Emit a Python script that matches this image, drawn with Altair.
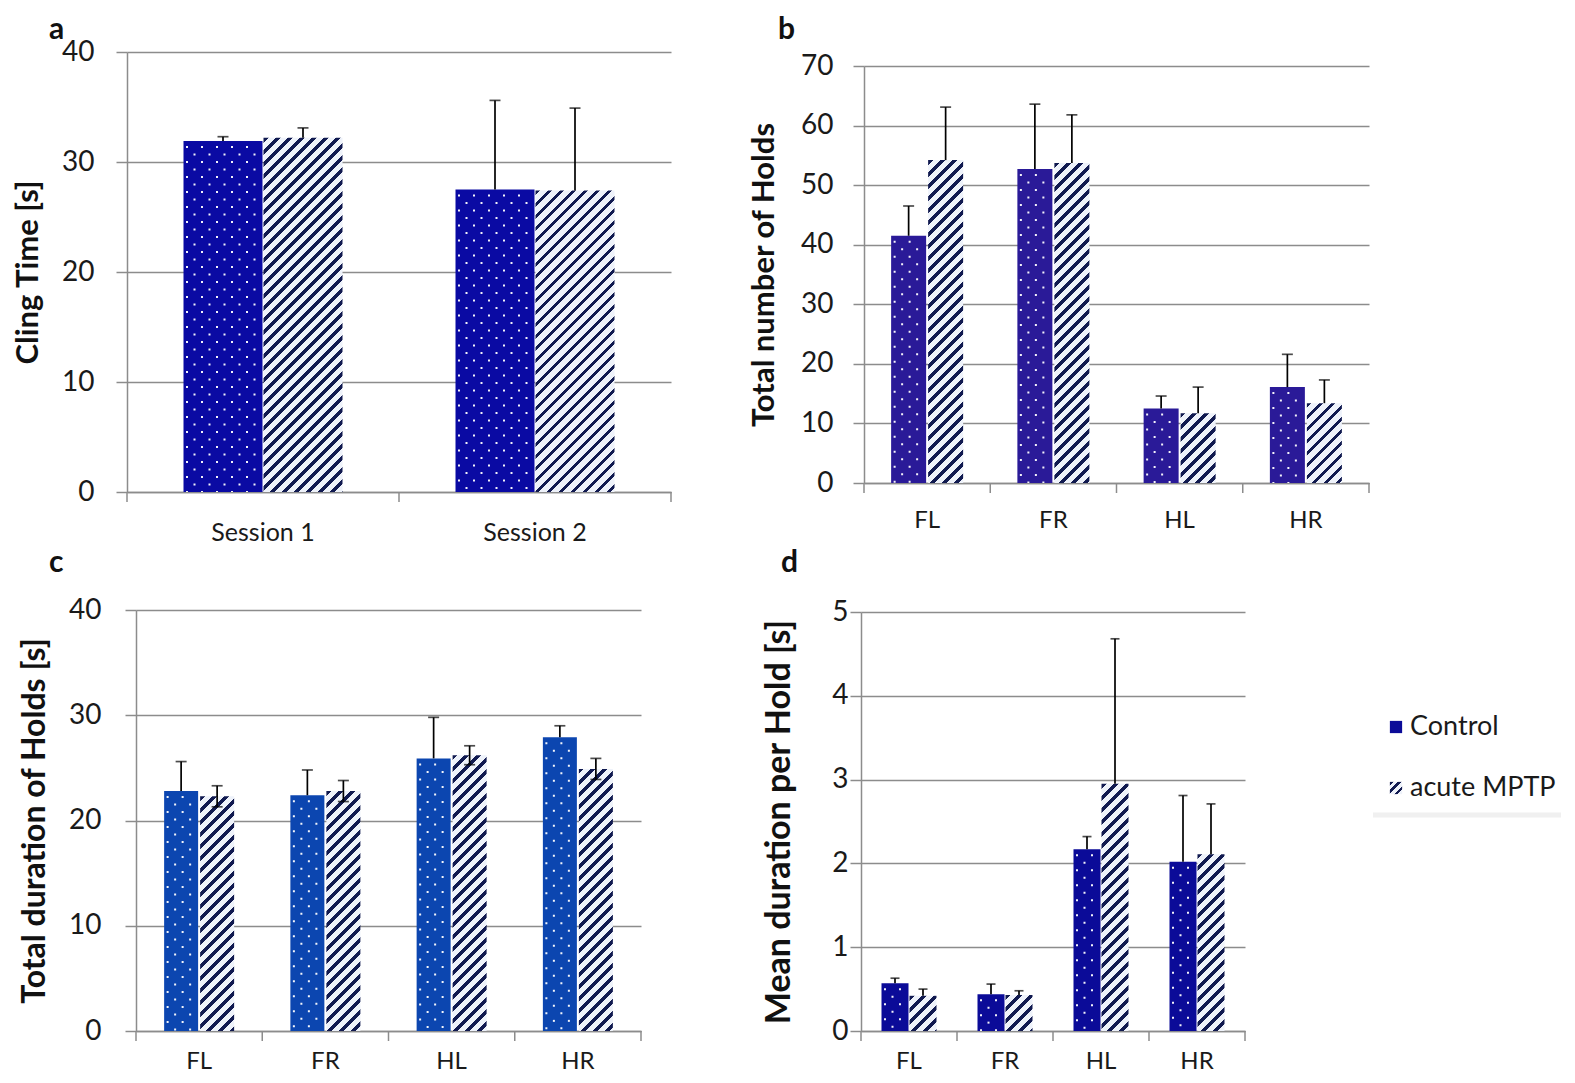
import altair as alt
import pandas as pd

FONT = "Lato"
GRID = "#8c8c8c"
DARK = "#111a50"
LIGHT = "#eef2fa"

series = ["Control", "acute MPTP"]

# ---- panel a: cling time ----
sessions = ["Session 1", "Session 2"]
a_ctrl = [31.9, 27.5]
a_ctrl_sem = [0.4, 8.1]
a_mptp = [32.2, 27.4]
a_mptp_sem = [0.9, 7.5]

# ---- limbs ----
limbs = ["FL", "FR", "HL", "HR"]

# panel b: total number of holds
b_ctrl = [41.5, 52.7, 12.5, 16.1]
b_ctrl_sem = [5.0, 10.9, 2.1, 5.5]
b_mptp = [54.2, 53.7, 11.7, 13.4]
b_mptp_sem = [8.9, 8.1, 4.4, 3.9]

# panel c: total duration of holds
c_ctrl = [22.8, 22.4, 25.9, 27.9]
c_ctrl_sem = [2.8, 2.4, 3.9, 1.1]
c_mptp = [22.3, 22.8, 26.2, 24.9]
c_mptp_sem = [1.0, 1.0, 0.9, 1.0]

# panel d: mean duration per hold
d_ctrl = [0.57, 0.44, 2.17, 2.02]
d_ctrl_sem = [0.06, 0.12, 0.15, 0.79]
d_mptp = [0.42, 0.43, 2.95, 2.11]
d_mptp_sem = [0.08, 0.05, 1.73, 0.60]


def stripe_gradient(h, w, period=12.0, frac=0.4):
    h = max(float(h), 1.0)
    w = max(float(w), 1.0)
    s = (1 / h + 1 / w) / (1 / h ** 2 + 1 / w ** 2)
    x2 = s / h
    y2 = s / w
    n = (w + h) / period
    stops = []
    k = 0
    while k < n:
        a = k / n
        b = min((k + frac) / n, 1.0)
        c = min((k + 1) / n, 1.0)
        stops += [(a, DARK), (b, DARK), (b, LIGHT), (c, LIGHT)]
        k += 1
    return alt.LinearGradient(
        gradient="linear", x1=0, y1=0, x2=round(x2, 5), y2=round(y2, 5),
        stops=[alt.GradientStop(color=col, offset=round(o, 5)) for o, col in stops],
    )


def panel(label, cats, ctrl, ctrl_sem, mptp, mptp_sem, ymax, ystep, ytitle,
          W, H, bw, gap, ctrl_color, two_sided, cap,
          title_dx, title_offset, label_pad, title_pad, x_label_pad, x_label_size=24,
          ytitle_size=31, pad_top=0, pad_left=0, legend=False):
    df = pd.DataFrame({
        "cat": cats,
        "ctrl": ctrl,
        "mptp": mptp,
        "zero": [0] * len(cats),
        "ctrl_hi": [v + e for v, e in zip(ctrl, ctrl_sem)],
        "mptp_hi": [v + e for v, e in zip(mptp, mptp_sem)],
        "mptp_lo": [(v - e) if two_sided else v for v, e in zip(mptp, mptp_sem)],
    })
    band = W / len(cats)
    off = (bw + gap) / 2.0
    TW = W + pad_left
    TH = H + pad_top
    xs = alt.Scale(domain=cats, paddingInner=0, paddingOuter=0, range=[pad_left, TW])
    ys = alt.Scale(domain=[0, ymax], nice=False, range=[TH, pad_top])

    axis_y = alt.Axis(values=list(range(0, ymax + 1, ystep)), format="d", grid=True,
                      tickSize=11, labelPadding=label_pad, title=ytitle,
                      titlePadding=title_pad, labelFontSize=28, titleFontSize=ytitle_size,
                      titleFontWeight="bold", offset=-pad_left)
    axis_x = alt.Axis(ticks=False, domain=True, grid=False, labelAngle=0,
                      labelPadding=x_label_pad, labelFontSize=x_label_size, title=None)

    def X():
        return alt.X("cat:N", sort=cats, scale=xs, axis=axis_x, title=None)

    def Y(f):
        return alt.Y(f"{f}:Q", scale=ys, axis=axis_y, title=ytitle)

    def Y2(f):
        return alt.Y2(f)

    base = alt.Chart(df)
    layers = []
    # control bars
    layers.append(base.mark_bar(width=bw, xOffset=-off, color=ctrl_color).encode(
        x=X(), y=Y("ctrl")))
    # dotted texture (columns of dashes)
    k = 0
    while 3.5 + 7.5 * k < bw - 2:
        xo = -off - bw / 2.0 + 3.5 + 7.5 * k
        layers.append(base.mark_rule(
            xOffset=xo, color="white", strokeWidth=2.0, strokeDash=[2.0, 13.0],
            strokeDashOffset=(10 if k % 2 == 0 else 2.5), opacity=0.95,
        ).encode(x=X(), y=Y("ctrl"), y2=Y2("zero")))
        k += 1
    # hatched bars, one per category
    for cat, v in zip(cats, mptp):
        hpx = v / ymax * H
        layers.append(base.transform_filter(alt.datum.cat == cat).mark_bar(
            width=bw, xOffset=off, color=stripe_gradient(hpx, bw)).encode(
            x=X(), y=Y("mptp")))
    # category boundary ticks on the x axis
    layers.append(base.mark_rule(xOffset=-band / 2.0, color=GRID, strokeWidth=1.5).encode(
        x=X(), y=Y("zero"), y2=alt.value(TH + 10)))
    layers.append(base.transform_filter(alt.datum.cat == cats[-1]).mark_rule(
        xOffset=band / 2.0, color=GRID, strokeWidth=1.5).encode(
        x=X(), y=Y("zero"), y2=alt.value(TH + 10)))
    # error bars
    layers.append(base.mark_rule(xOffset=-off, color="black", strokeWidth=1.7).encode(
        x=X(), y=Y("ctrl"), y2=Y2("ctrl_hi")))
    layers.append(base.mark_tick(xOffset=-off, color="black", thickness=1.7, size=cap,
                                 orient="horizontal").encode(x=X(), y=Y("ctrl_hi")))
    layers.append(base.mark_rule(xOffset=off, color="black", strokeWidth=1.7).encode(
        x=X(), y=Y("mptp_lo"), y2=Y2("mptp_hi")))
    layers.append(base.mark_tick(xOffset=off, color="black", thickness=1.7, size=cap,
                                 orient="horizontal").encode(x=X(), y=Y("mptp_hi")))
    if two_sided:
        layers.append(base.mark_tick(xOffset=off, color="black", thickness=1.7, size=cap,
                                     orient="horizontal").encode(x=X(), y=Y("mptp_lo")))

    if legend:
        ldf = pd.DataFrame({"name": series})
        lb = alt.Chart(ldf)
        ys_leg = [117, 178]
        # faint shadow under the legend box
        layers.append(lb.transform_filter(alt.datum.name == series[0]).mark_rule(
            color="#f0f0f0", strokeWidth=5).encode(
            x=alt.value(512), x2=alt.value(700), y=alt.value(205)))
        layers.append(lb.transform_filter(alt.datum.name == series[0]).mark_square(
            size=150, color=ctrl_color, opacity=1).encode(
            x=alt.value(535), y=alt.value(ys_leg[0])))
        layers.append(lb.transform_filter(alt.datum.name == series[1]).mark_square(
            size=150, color=stripe_gradient(12, 12, period=8.0, frac=0.45), opacity=1).encode(
            x=alt.value(535), y=alt.value(ys_leg[1])))
        for nm, yy in zip(series, ys_leg):
            layers.append(lb.transform_filter(alt.datum.name == nm).mark_text(
                align="left", baseline="middle", font=FONT, fontSize=27,
                color="#1a1a1a").encode(
                x=alt.value(549), y=alt.value(yy), text="name:N"))

    return alt.layer(*layers).properties(
        width=TW, height=TH,
        title=alt.TitleParams(label, anchor="start", frame="group", dx=title_dx + pad_left,
                              offset=title_offset, fontSize=30, fontWeight="bold",
                              font=FONT, color="#111111"),
    )


pa = panel("a", sessions, a_ctrl, a_ctrl_sem, a_mptp, a_mptp_sem, 40, 10, "Cling Time [s]",
           544, 440, 79, 1, "#0a0aa3", False, 11, -78, -7, 22, 17, 28, x_label_size=25)
pb = panel("b", limbs, b_ctrl, b_ctrl_sem, b_mptp, b_mptp_sem, 70, 10, "Total number of Holds",
           505, 417, 35, 2, "#2a1a98", False, 11, -86, 7, 20, 20, 25, pad_top=14)
pc = panel("c", limbs, c_ctrl, c_ctrl_sem, c_mptp, c_mptp_sem, 40, 10,
           "Total duration of Holds [s]",
           505, 421, 34, 2, "#0c46b0", True, 11, -87, 18, 24, 17, 18, ytitle_size=32,
           pad_left=9)
pd_ = panel("d", limbs, d_ctrl, d_ctrl_sem, d_mptp, d_mptp_sem, 5, 1,
            "Mean duration per Hold [s]",
            384, 419, 27, 1, "#0b0b98", False, 9, -80, 20, 2, 35, 18, ytitle_size=34,
            pad_top=2, legend=True)

row1 = alt.hconcat(pa, pb, spacing=76)
row2 = alt.hconcat(pc, pd_, spacing=120)
chart = alt.vconcat(row1, row2, spacing=3).properties(
    padding={"top": 7, "left": 4, "right": 2, "bottom": 0}
).configure_view(
    stroke=None
).configure_axis(
    domainColor=GRID, gridColor=GRID, tickColor=GRID, domainWidth=1.5, gridWidth=1.5,
    tickWidth=1.5, labelFont=FONT, titleFont=FONT, labelColor="#1a1a1a", titleColor="#111111",
).configure_title(font=FONT)

chart.save("out.html", embed_options={"renderer": "svg", "actions": False})
